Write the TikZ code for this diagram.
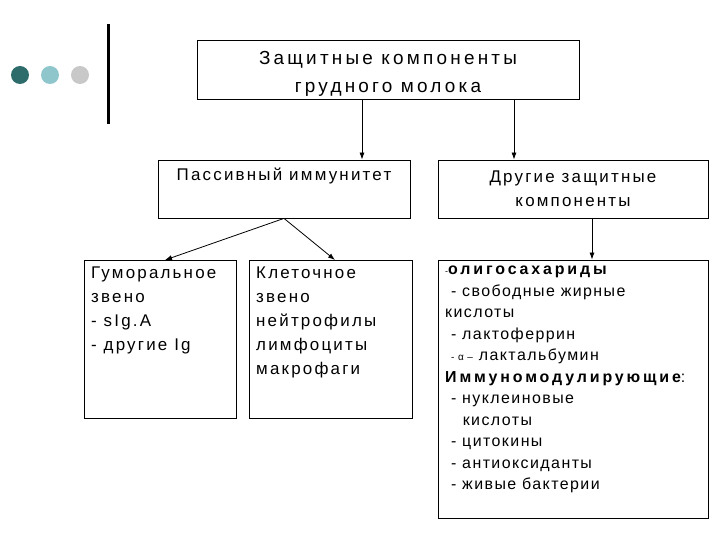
\documentclass[tikz,border=0pt]{standalone}
\usepackage{fontspec}
\setmainfont{Liberation Sans}
\newfontfamily\myspa[LetterSpace=13]{Liberation Sans}
\newfontfamily\myspt[LetterSpace=17]{Liberation Sans}
\newfontfamily\myspr[LetterSpace=9]{Liberation Sans}
\newfontfamily\myspb[LetterSpace=18]{Liberation Sans}
\begin{document}
\begin{tikzpicture}[x=1bp,y=-1bp,
  box/.style={draw,line width=0.8bp,inner sep=0},
  arr/.style={-{Latex[length=7bp,width=5bp]},line width=0.8bp},
  txt/.style={align=left,anchor=north west,inner sep=0}]
\usetikzlibrary{arrows.meta}
\useasboundingbox (0,0) rectangle (720,540);
\fill[fill={rgb,255:red,46;green,107;blue,107}] (20,75) circle (9);
\fill[fill={rgb,255:red,142;green,198;blue,204}] (50,75) circle (9);
\fill[fill={rgb,255:red,200;green,200;blue,200}] (80,75) circle (9);
\fill (106.5,24) rectangle (109.5,124);
\node[box,minimum width=382bp,minimum height=59bp] (t) at (388,69.5) {};
\node[font=\myspt\fontsize{19}{28}\selectfont,align=center] at (388,74) {Защитные компоненты\\грудного молока};
\node[box,minimum width=252bp,minimum height=58bp] (p) at (284,189) {};
\node[font=\myspa\fontsize{17}{20}\selectfont,anchor=north,inner sep=0] at (284,168) {Пассивный иммунитет};
\node[box,minimum width=270bp,minimum height=58bp] (o) at (573,189) {};
\node[font=\myspa\fontsize{17}{24}\selectfont,align=center] at (573,189) {Другие защитные\\компоненты};
\node[box,minimum width=152bp,minimum height=158bp] (h) at (160,339) {};
\node[box,minimum width=163bp,minimum height=158bp] (c) at (330.5,339) {};
\node[box,minimum width=270bp,minimum height=258bp] (r) at (573,389) {};
\node[txt,font=\myspa\fontsize{17}{24}\selectfont] at (91,267) {Гуморальное\\звено\\- sIg.A\\- другие Ig};
\node[txt,font=\myspa\fontsize{17}{24}\selectfont] at (256,267) {Клеточное\\звено\\нейтрофилы\\лимфоциты\\макрофаги};
\node[txt,font=\myspr\fontsize{16}{21.6}\selectfont] at (445,266) {{\fontsize{9}{10}\selectfont -}{\myspb\bfseries олигосахариды}\\
\ - свободные жирные\\кислоты\\\ - лактоферрин\\\ {\fontsize{10}{10}\selectfont - α –} лактальбумин\\{\myspb\bfseries Иммуномодулирующие}:\\\ - нуклеиновые\\\ \ \ кислоты\\\ - цитокины\\\ - антиоксиданты\\\ - живые бактерии};
\draw[arr] (t.south -| 362,0) -- (p.north -| 362,0);
\draw[arr] (t.south -| 514,0) -- (o.north -| 514,0);
\draw[arr] (p.south) -- (165,260);
\draw[arr] (p.south) -- (335,260);
\draw[arr] (o.south -| 592,0) -- (r.north -| 592,0);
\end{tikzpicture}
\end{document}
